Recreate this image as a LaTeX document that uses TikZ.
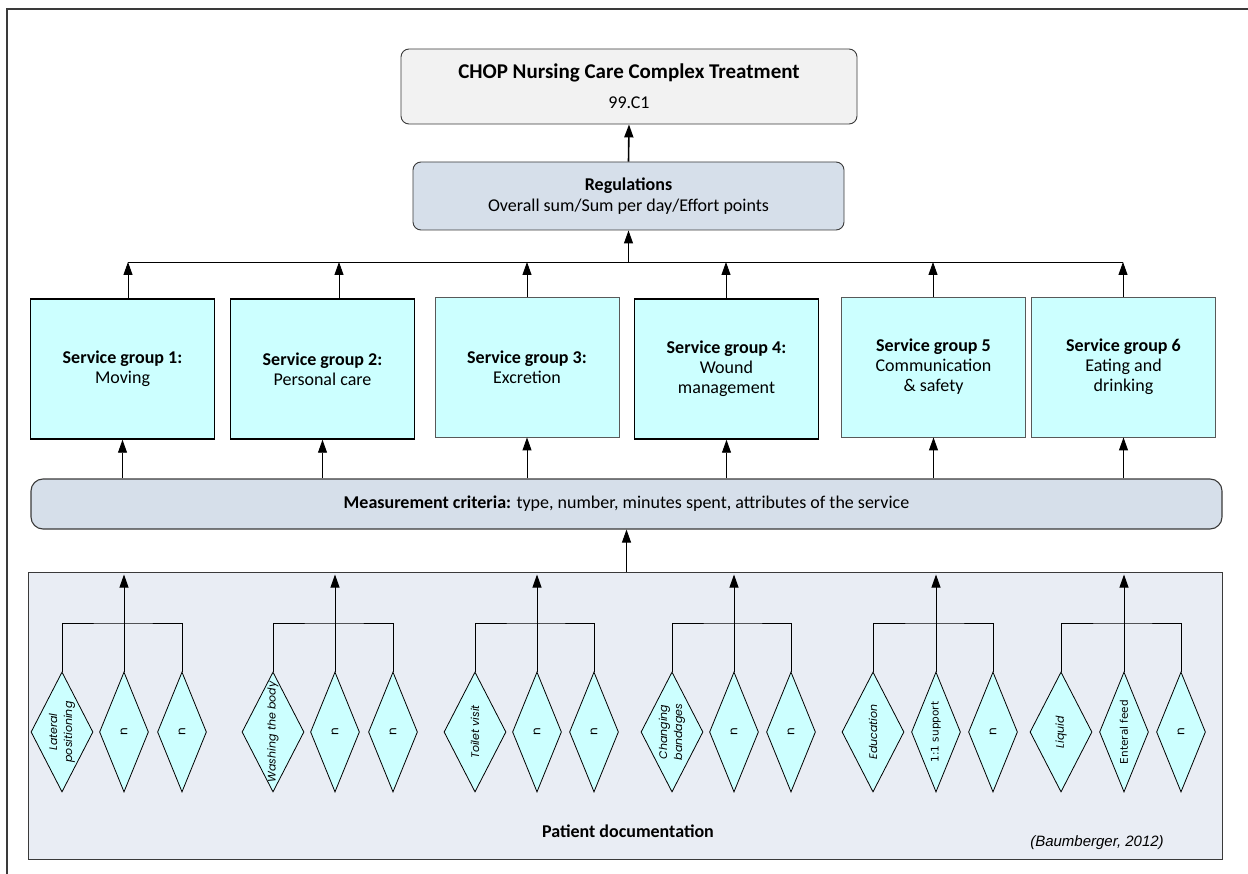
\documentclass[tikz,border=0pt]{standalone}
\usepackage{fontspec}
\setmainfont{Carlito}
\newfontfamily\dfont{Poppins}
\newfontfamily\dvfont{DejaVu Sans}
\newfontfamily\arialfont{Liberation Sans}
\usetikzlibrary{shapes.geometric,arrows.meta}

\definecolor{topfill}{HTML}{F2F2F2}
\definecolor{regfill}{HTML}{D6DFEA}
\definecolor{sgfill}{HTML}{CCFFFF}
\definecolor{docfill}{HTML}{E9EDF4}
\definecolor{edge}{HTML}{3A3A3A}

\tikzset{
    arr/.style={-{Triangle[length=13pt,width=9pt]}, line width=0.9pt},
    sgbox/.style={draw=black, line width=1.5pt, fill=sgfill, minimum width=184pt,
        minimum height=140pt, align=center, font=\fontsize{18}{20}\selectfont},
    sgthin/.style={sgbox, draw=gray!70!black, line width=0.9pt},
    dia/.style={diamond, draw, fill=sgfill, inner sep=0pt, minimum height=120pt,
        minimum width=49pt, line width=0.8pt},
    lab/.style={rotate=90, align=center, inner sep=0pt},
}

\begin{document}
\begin{tikzpicture}[x=1pt,y=-1pt]
    \useasboundingbox (0,0) rectangle (1248,874);
    \draw[line width=1.3pt, edge] (7,874) -- (7,9) -- (1248,9);

    % top of the hierarchy
    \node[draw=edge, line width=0.9pt, rounded corners=8pt, fill=topfill, minimum width=456pt,
        minimum height=75pt, align=center, font=\fontsize{18}{30}\selectfont] (top) at (629,86.5)
        {{\fontsize{21}{25}\selectfont\bfseries CHOP Nursing Care Complex Treatment}\\99.C1};
    \node[draw=edge, line width=0.9pt, rounded corners=8pt, fill=regfill, minimum width=431pt,
        minimum height=68pt, align=center, font=\fontsize{18}{21}\selectfont] (reg) at (628.5,196)
        {\textbf{Regulations}\\Overall sum/Sum per day/Effort points};

    % service groups
    \node[sgbox] (sg1) at (122.5,369) {\textbf{Service group 1:}\\Moving};
    \node[sgbox] (sg2) at (322.5,369) {\textbf{Service group 2:}\\Personal care};
    \node[sgthin] (sg3) at (527,367) {\textbf{Service group 3:}\\Excretion};
    \node[sgbox] (sg4) at (726.5,369) {\textbf{Service group 4:}\\Wound\\management};
    \node[sgthin] (sg5) at (933.5,367) {\textbf{Service group 5}\\Communication\\\& safety};
    \node[sgthin] (sg6) at (1123.5,367) {\textbf{Service group 6}\\Eating and\\drinking};

    \node[draw=edge, line width=1.1pt, rounded corners=12pt, fill=regfill, minimum width=1191pt,
        minimum height=50pt, font=\fontsize{18}{21}\selectfont] (meas) at (626.5,504)
        {\textbf{Measurement criteria:} type, number, minutes spent, attributes of the service};

    % patient documentation
    \node[draw=edge, line width=0.9pt, fill=docfill, minimum width=1194pt, minimum height=287pt] (docs) at (625,715.5) {};
    \node[font=\bfseries\fontsize{18}{21}\selectfont] (doclab) at (628,831) {Patient documentation};
    \node[font=\arialfont\itshape\fontsize{15}{18}\selectfont] (src) at (1097,843) {(Baumberger, 2012)};

    % arrows between the levels
    \draw[arr, line width=1.6pt] (reg.north) -- (top.south);
    \coordinate (busL) at (128,262);
    \coordinate (busR) at (1123,262);
    \draw[line width=0.9pt] (busL) -- (busR);
    \draw[arr] (reg.south |- busL) -- (reg.south);
    \foreach \s/\x in {sg1/128, sg2/339, sg3/527, sg4/726, sg5/933, sg6/1123} {
        \coordinate (t\s) at (\x,262);
        \draw[arr] (\s.north -| t\s) -- (t\s);
        \draw[arr] (\s.south |- meas.north) -- (\s.south);
    }
    \draw[arr] (meas.south |- docs.north) -- (meas.south);

    % documented services
    \foreach \g/\xa/\xb/\xc/\la/\lb/\sb in {
        1/62/124/182/{Lateral\\positioning}/n/{\dfont\fontsize{12}{15}},
        2/273/335/393/{Washing the body}/n/{\dfont\fontsize{12}{15}},
        3/475/537/594/{Toilet visit}/n/{\dfont\fontsize{12}{15}},
        4/672/734/791/{Changing\\bandages}/n/{\dfont\fontsize{12}{15}},
        5/873/936/993/{Education}/{1:1 support}/{\dvfont\fontsize{10.5}{14}},
        6/1061/1124/1181/{Liquid}/{Enteral feed}/{\dvfont\fontsize{10.5}{14}}} {
        \node[dia, minimum width=62pt] (d\g a) at (\xa,732) {};
        \node[dia] (d\g b) at (\xb,732) {};
        \node[dia] (d\g c) at (\xc,732) {};
        \node[lab, font=\dfont\itshape\fontsize{11}{15}\selectfont] (l\g a) at (d\g a) {\la};
        \node[lab, font=\sb\selectfont] (l\g b) at (d\g b) {\lb};
        \node[lab, font=\dfont\fontsize{12}{15}\selectfont] (l\g c) at (d\g c) {n};
        \coordinate (k\g) at (\xb,623);
        \draw[line width=0.9pt] (d\g a.north) |- (k\g) -| (d\g c.north);
        \draw[arr] (d\g b.north) -- ([yshift=-3pt]d\g b.north |- docs.north);
    }
\end{tikzpicture}
\end{document}
